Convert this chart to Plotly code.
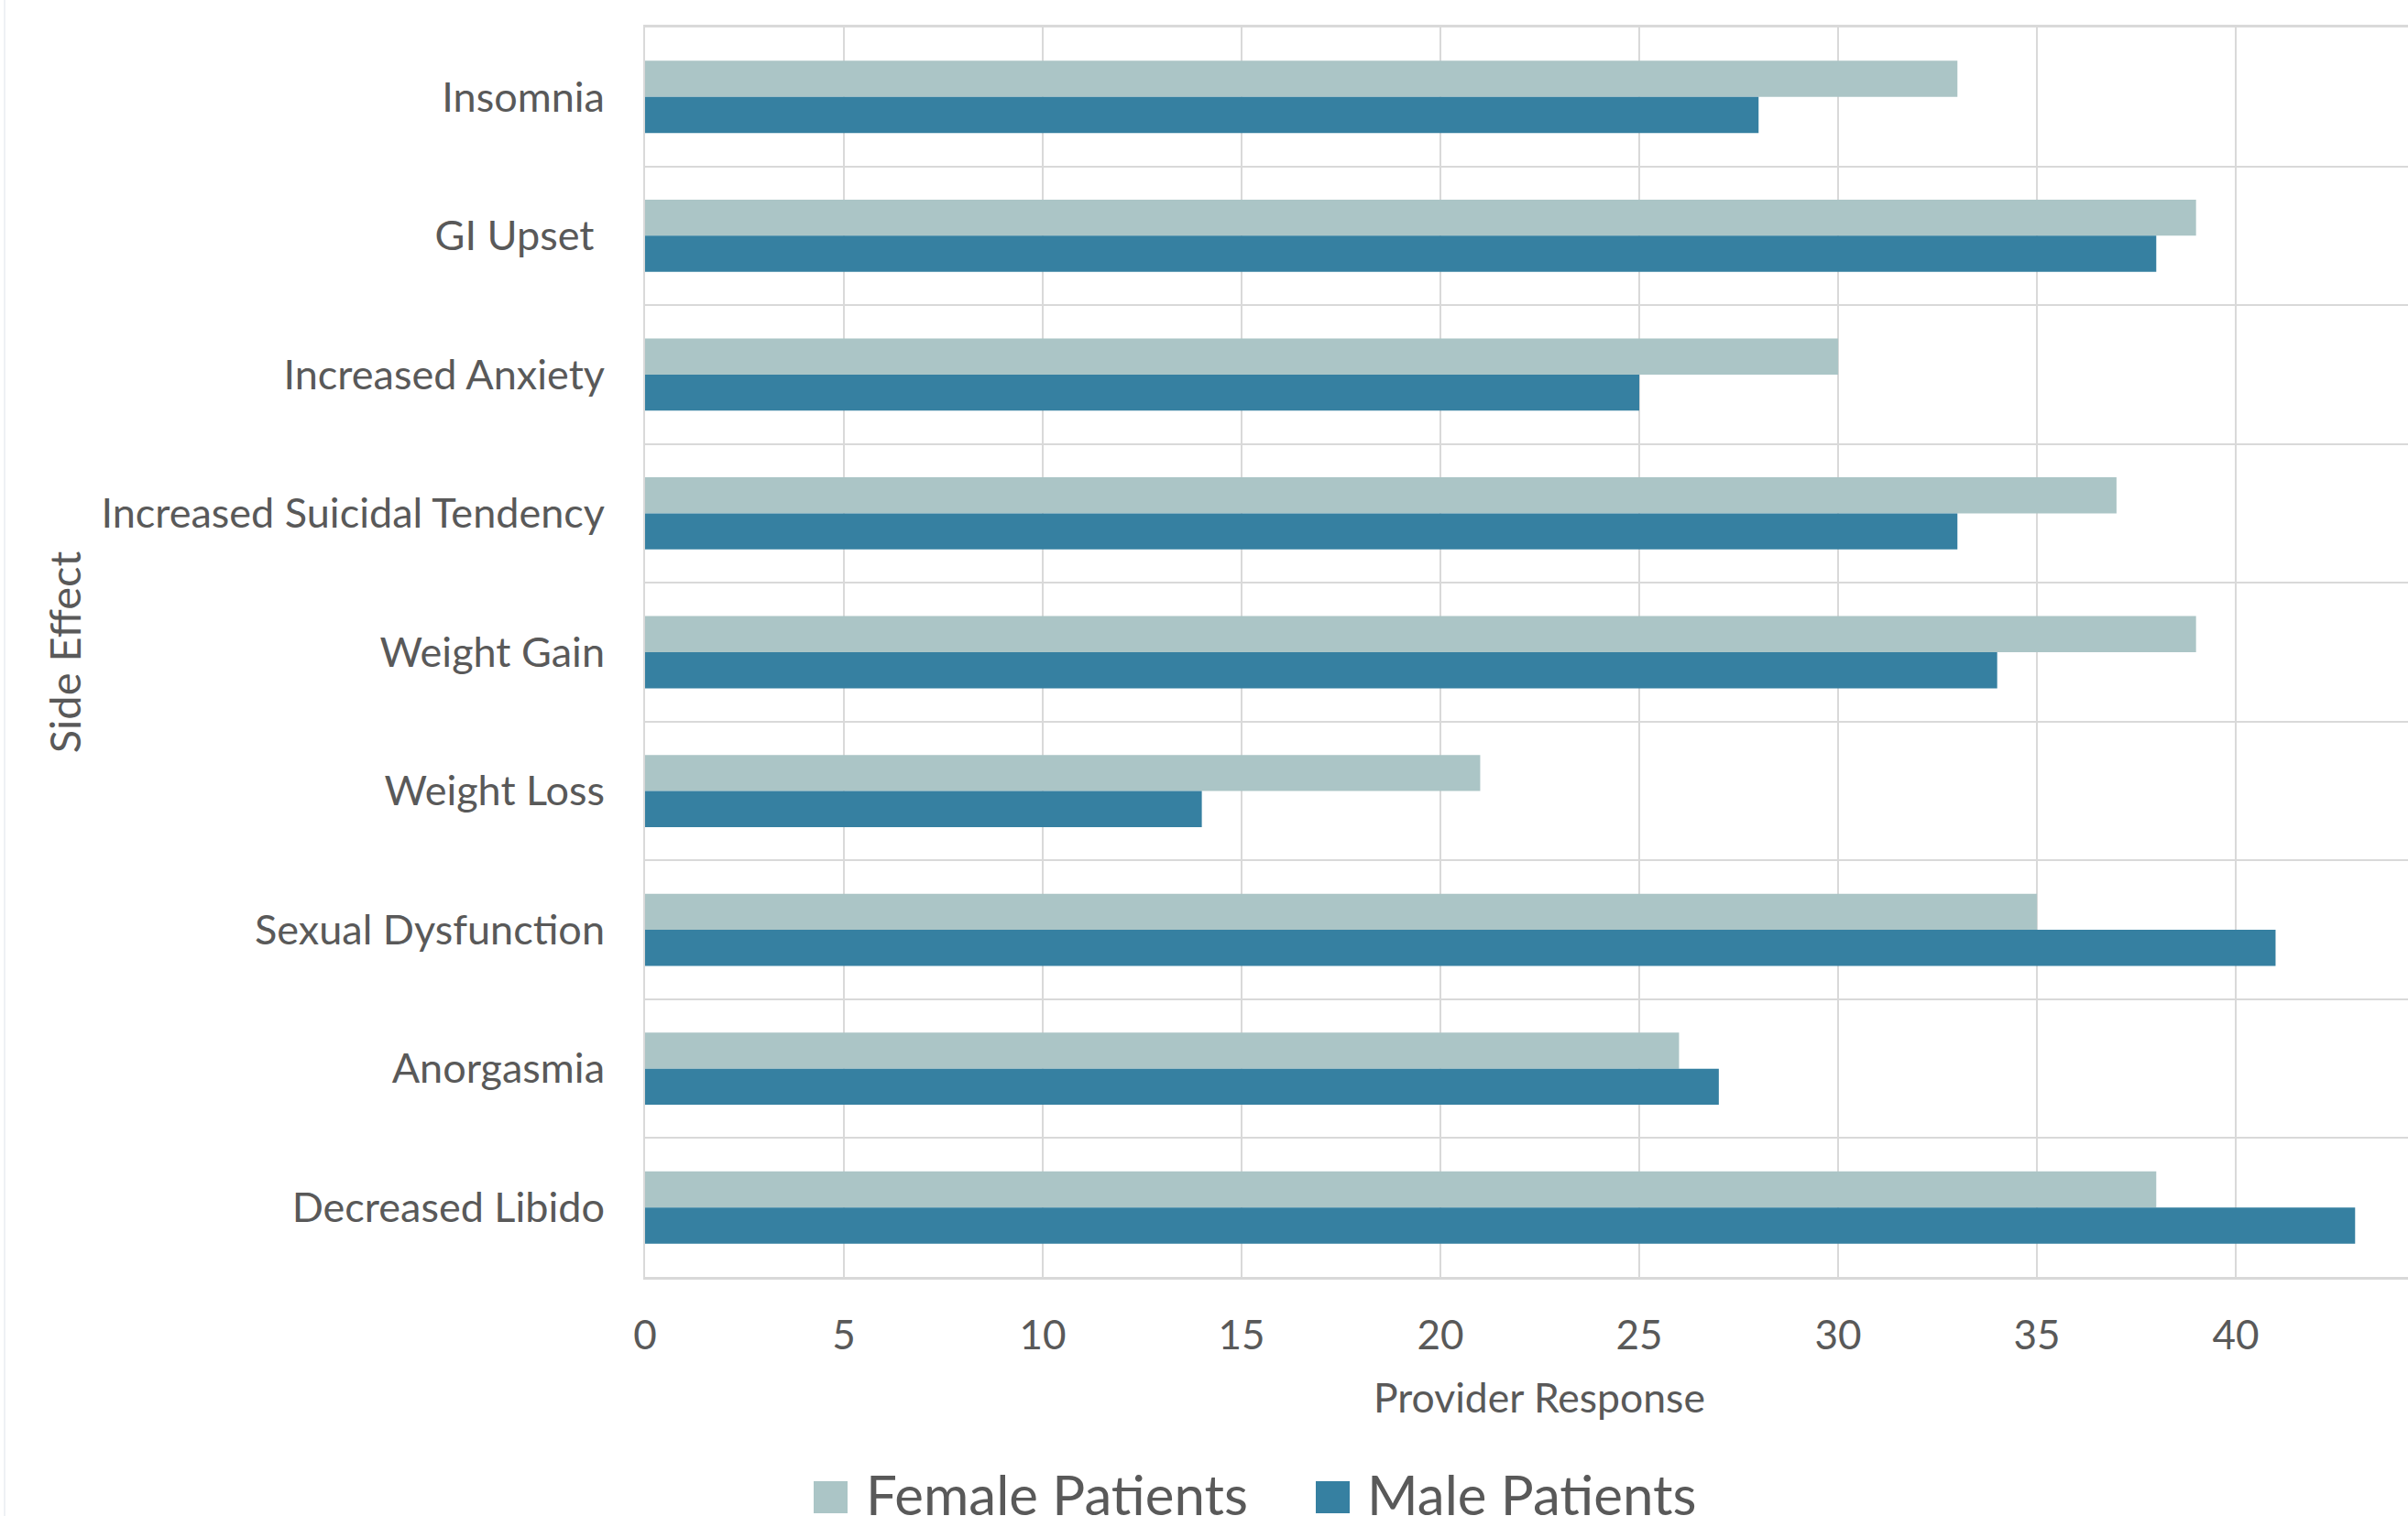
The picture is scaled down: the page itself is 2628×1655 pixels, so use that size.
import plotly.graph_objects as go

categories = ["Insomnia", "GI Upset ", "Increased Anxiety", "Increased Suicidal Tendency",
              "Weight Gain", "Weight Loss", "Sexual Dysfunction", "Anorgasmia", "Decreased Libido"]
female = [33, 39, 30, 37, 39, 21, 35, 26, 38]
male = [28, 38, 25, 33, 34, 14, 41, 27, 43]
x_ticks = [0, 5, 10, 15, 20, 25, 30, 35, 40]
series_names = ["Female Patients", "Male Patients"]

C_F = "#ABC5C6"
C_M = "#3680A1"
TXT = "#595959"
GRID = "#D9D9D9"
FONT = "Lato"

W, H = 2628, 1655
L, R, T, B = 704, 2628, 30, 1394

def px(x):
    return (x - L) / (R - L)

def py(y):
    return (B - y) / (B - T)

fig = go.Figure()
fig.add_trace(go.Bar(y=categories, x=female, name=series_names[0], orientation="h",
                     marker=dict(color=C_F, line=dict(width=0))))
fig.add_trace(go.Bar(y=categories, x=male, name=series_names[1], orientation="h",
                     marker=dict(color=C_M, line=dict(width=0))))

fig.update_layout(
    width=W, height=H,
    margin=dict(l=L, r=W - R, t=T, b=H - B, autoexpand=False),
    paper_bgcolor="white", plot_bgcolor="white",
    barmode="group", bargap=0.48, bargroupgap=0,
    showlegend=False,
    font=dict(family=FONT, color=TXT, size=45),
)
fig.update_xaxes(
    range=[0, 44.33], tickvals=x_ticks, ticktext=[str(v) for v in x_ticks],
    showgrid=True, gridcolor=GRID, gridwidth=2,
    showline=True, linecolor=GRID, linewidth=3, mirror=True,
    ticks="", ticklabelstandoff=23, zeroline=False,
    tickfont=dict(size=44, color=TXT),
    automargin=False,
)
fig.update_yaxes(
    autorange="reversed", tickson="boundaries",
    showgrid=True, gridcolor=GRID, gridwidth=2,
    showline=True, linecolor=GRID, linewidth=2,
    ticks="", ticklabelstandoff=33,
    tickfont=dict(size=45, color=TXT),
    title=dict(text="Side Effect", font=dict(size=47, color=TXT), standoff=7),
    automargin=False,
)

# x-axis title (positioned as in the reference, slightly right of plot centre)
fig.add_annotation(xref="paper", yref="paper", x=px(1680), y=py(1525),
                   xanchor="center", yanchor="middle", showarrow=False,
                   text="Provider Response", font=dict(size=44.5, color=TXT, family=FONT))

# legend drawn manually to match large square swatches
leg = [(888, 925, 943, series_names[0], C_F), (1436, 1473, 1490, series_names[1], C_M)]
for x0, x1, xt, name, col in leg:
    fig.add_shape(type="rect", xref="paper", yref="paper",
                  x0=px(x0), x1=px(x1), y0=py(1652), y1=py(1617),
                  fillcolor=col, line=dict(width=0))
    fig.add_annotation(xref="paper", yref="paper", x=px(xt), y=py(1593),
                       xanchor="left", yanchor="top", showarrow=False,
                       text=name, font=dict(size=60, color=TXT, family=FONT))

# chart-area border on far left
fig.add_shape(type="line", xref="paper", yref="paper",
              x0=px(5), x1=px(5), y0=py(0), y1=py(1655),
              line=dict(color="#EEF1F4", width=2))

fig.write_html("out.html")
